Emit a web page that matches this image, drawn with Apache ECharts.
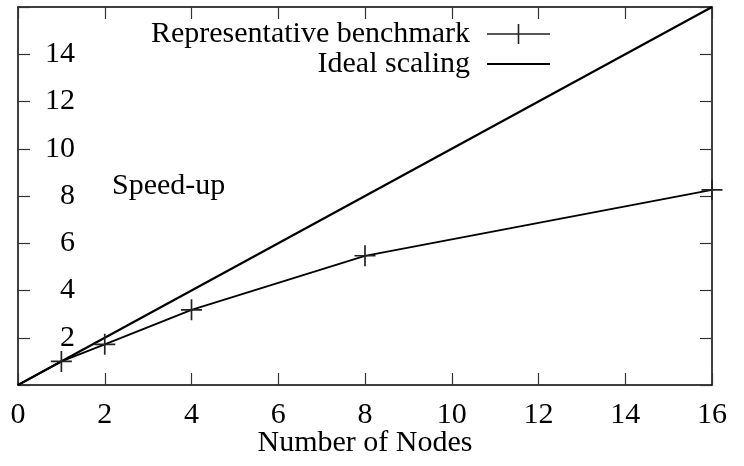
<!DOCTYPE html>
<html><head><meta charset="utf-8">
<script src="https://cdn.jsdelivr.net/npm/echarts@6/dist/echarts.min.js"></script>
<style>html,body{margin:0;padding:0;background:#fff}#c{width:744px;height:466px}</style>
</head><body><div id="c"></div>
<script>
const nodes = [0, 1, 2, 4, 8, 16];
const benchmark = [0, 1.0, 1.72, 3.18, 5.47, 8.26];
const idealX = [0, 16];
const idealY = [0, 16];
const xTicks = [0, 2, 4, 6, 8, 10, 12, 14, 16];
const yTicks = [2, 4, 6, 8, 10, 12, 14];

const FONT = 'Liberation Serif';
const FS = 30;
const plus = 'path://M-0.08,-1L0.08,-1L0.08,1L-0.08,1Z M-1,-0.08L1,-0.08L1,0.08L-1,0.08Z';
const iconBench = 'path://M0,9.2L63,9.2L63,10.8L0,10.8Z M30.7,0L32.3,0L32.3,20L30.7,20Z';
const iconIdeal = 'path://M0,0L63,0L63,2.2L0,2.2Z';

const chart = echarts.init(document.getElementById('c'));
const axisCommon = {
  min: 0, max: 16, interval: 2,
  axisLine: {onZero: false, lineStyle: {color: '#000', width: 1.5}},
  axisTick: {inside: true, length: 12, lineStyle: {color: '#333', width: 1.2}},
  splitLine: {show: false}
};
chart.setOption({
  animation: false,
  grid: {left: 18, right: 32, top: 7, bottom: 81, outerBoundsMode: 'none', containLabel: false},
  textStyle: {fontFamily: FONT},
  legend: {
    orient: 'vertical', right: 189, top: 14, align: 'right',
    itemWidth: 63, itemHeight: 20, itemGap: 0,
    textStyle: {fontFamily: FONT, fontSize: FS, lineHeight: 29, color: '#000', padding: [0, 12, 0, 0]},
    data: [{name: 'Representative benchmark', icon: iconBench},
           {name: 'Ideal scaling', icon: iconIdeal}]
  },
  graphic: [{type: 'text', left: 112, top: 171,
    style: {text: 'Speed-up', font: FS + 'px "Liberation Serif"', fill: '#000'}}],
  xAxis: [
    Object.assign({}, axisCommon, {type: 'value', position: 'bottom',
      name: 'Number of Nodes', nameLocation: 'middle', nameGap: 43, nameMoveOverlap: false,
      nameTextStyle: {fontFamily: FONT, fontSize: FS, color: '#000'},
      axisLabel: {margin: 15, fontFamily: FONT, fontSize: FS, color: '#000',
        formatter: v => xTicks.includes(v) ? String(v) : ''}}),
    Object.assign({}, axisCommon, {type: 'value', position: 'top', axisLabel: {show: false}})
  ],
  yAxis: [
    Object.assign({}, axisCommon, {type: 'value', position: 'left',
      axisLabel: {inside: true, margin: 57, align: 'right', fontFamily: FONT, fontSize: FS, color: '#000',
        formatter: v => yTicks.includes(v) ? String(v) : ''}}),
    Object.assign({}, axisCommon, {type: 'value', position: 'right', axisLabel: {show: false}})
  ],
  series: [
    {name: 'Representative benchmark', type: 'line',
      data: nodes.map((x, i) => ({value: [x, benchmark[i]], symbol: i === 0 ? 'none' : plus})),
      symbol: plus, symbolSize: 21, showAllSymbol: true,
      lineStyle: {color: '#000', width: 1.8},
      itemStyle: {color: '#222'}},
    {name: 'Ideal scaling', type: 'line',
      data: idealX.map((x, i) => [x, idealY[i]]),
      symbol: 'none', lineStyle: {color: '#000', width: 2.2},
      itemStyle: {color: '#000'}}
  ]
});
</script></body></html>
